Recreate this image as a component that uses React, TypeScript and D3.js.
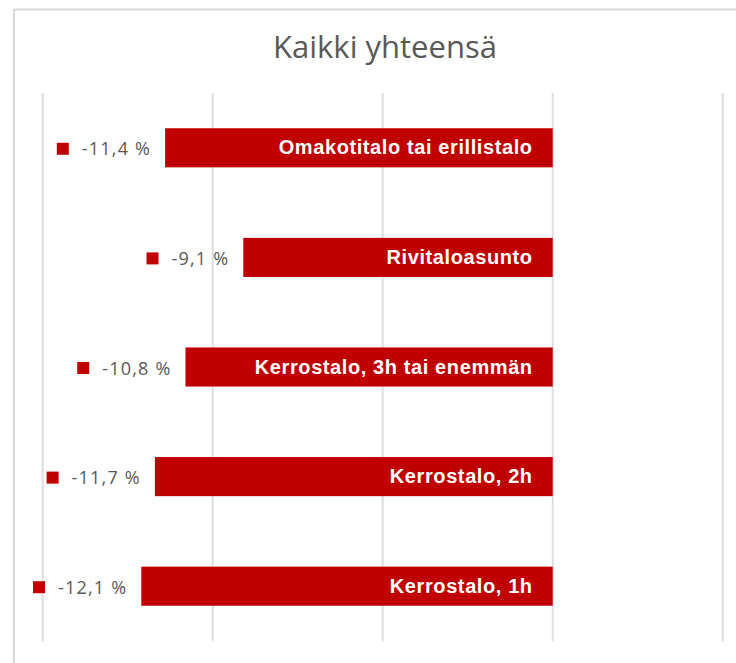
import React, { useEffect, useRef } from "react";
import * as d3 from "d3";

const title = "Kaikki yhteensä";
const categories = [
  "Omakotitalo tai erillistalo",
  "Rivitaloasunto",
  "Kerrostalo, 3h tai enemmän",
  "Kerrostalo, 2h",
  "Kerrostalo, 1h",
];
const values = [-11.4, -9.1, -10.8, -11.7, -12.1];
const valueLabels = ["-11,4 %", "-9,1 %", "-10,8 %", "-11,7 %", "-12,1 %"];
const xTicks = [-15, -10, -5, 0, 5];

const W = 736;
const H = 663;
const RED = "#c00000";
const GRAY = "#595959";
const GRID = "#dedede";

export default function App() {
  const ref = useRef<SVGSVGElement | null>(null);

  useEffect(() => {
    const svg = d3.select(ref.current);
    svg.selectAll("*").remove();

    const x = d3.scaleLinear().domain([-15, 5]).range([42.7, 722.7]);
    const y = d3
      .scaleBand<string>()
      .domain(categories)
      .range([93, 641])
      .paddingInner(0.643)
      .paddingOuter(0.3215);

    // chart border
    svg
      .append("rect")
      .attr("x", 14)
      .attr("y", 9.5)
      .attr("width", 760)
      .attr("height", 700)
      .attr("fill", "#fff")
      .attr("stroke", "#d9d9d9")
      .attr("stroke-width", 2);

    // title
    svg
      .append("text")
      .attr("x", 385)
      .attr("y", 57.7)
      .attr("text-anchor", "middle")
      .attr("font-family", "'Open Sans', sans-serif")
      .attr("font-size", 31)
      .attr("fill", GRAY)
      .text(title);

    // gridlines
    svg
      .append("g")
      .selectAll("line")
      .data(xTicks)
      .join("line")
      .attr("x1", (d) => x(d))
      .attr("x2", (d) => x(d))
      .attr("y1", 93)
      .attr("y2", 641.5)
      .attr("stroke", GRID)
      .attr("stroke-width", 2);

    const rows = svg
      .append("g")
      .selectAll("g")
      .data(categories.map((c, i) => ({ c, v: values[i], l: valueLabels[i] })))
      .join("g");

    rows
      .append("rect")
      .attr("x", (d) => x(d.v))
      .attr("y", (d) => y(d.c)!)
      .attr("width", (d) => x(0) - x(d.v))
      .attr("height", y.bandwidth())
      .attr("fill", RED);

    rows
      .append("text")
      .attr("x", x(0) - 20)
      .attr("y", (d) => y(d.c)! + y.bandwidth() / 2 + 6.5)
      .attr("text-anchor", "end")
      .attr("font-family", "'Liberation Sans', Arial, sans-serif")
      .attr("font-weight", "bold")
      .attr("font-size", 20)
      .attr("letter-spacing", 0.6)
      .attr("fill", "#fff")
      .text((d) => d.c);

    rows.each(function (d) {
      const g = d3.select(this);
      const cy = y(d.c)! + y.bandwidth() / 2 + 1;
      const t = g
        .append("text")
        .attr("x", x(d.v) - 14)
        .attr("y", cy + 6.5)
        .attr("text-anchor", "end")
        .attr("font-family", "'Open Sans', sans-serif")
        .attr("font-size", 18)
        .attr("letter-spacing", 1.2)
        .attr("fill", GRAY)
        .text(d.l);
      const w = (t.node() as SVGTextElement).getComputedTextLength();
      const startX = x(d.v) - 14 - w;
      g.append("rect")
        .attr("x", startX - 13 - 12)
        .attr("y", cy - 6)
        .attr("width", 12)
        .attr("height", 12)
        .attr("fill", RED);
    });
  }, []);

  return (
    <svg
      ref={ref}
      width={W}
      height={H}
      style={{ position: "absolute", left: 0, top: 0, display: "block", background: "#fff" }}
    />
  );
}
